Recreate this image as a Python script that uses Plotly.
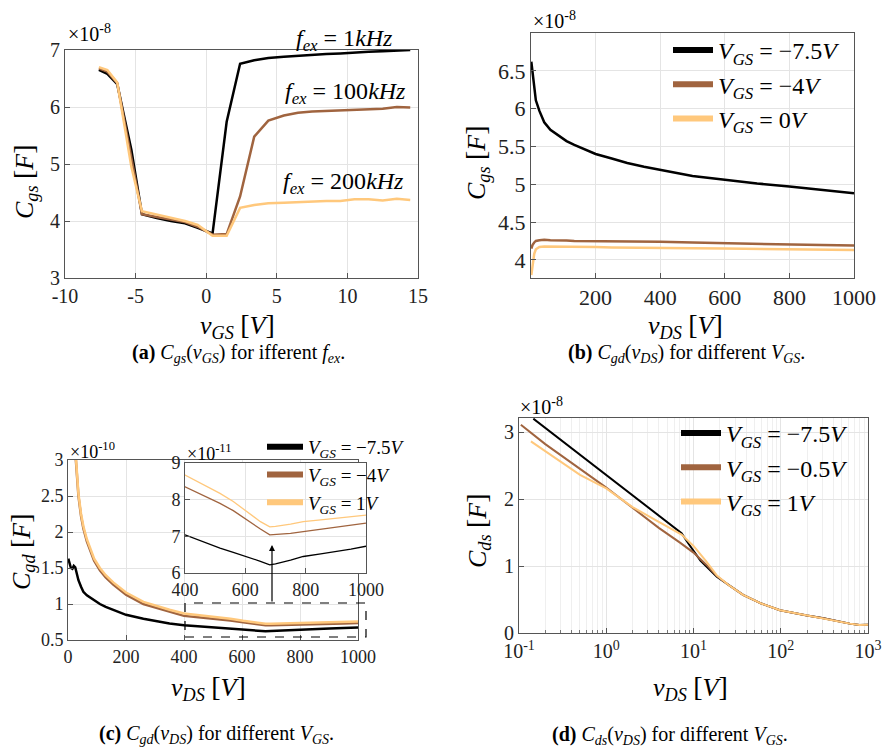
import plotly.graph_objects as go

W, H = 884, 749
FONT = "Liberation Serif, Times New Roman, serif"
BLACK = "#000000"
BROWN = "#A0643F"
ORANGE = "#FFC87C"

# ---------------- (a) Cgs(vGS) for different f_ex  (units 1e-8 F) ----------------
vgs_a = [-7.6, -7.0, -6.3, -5.3, -4.55, -3.5, -2.5, -1.5, -0.6, 0.45, 1.45, 2.4, 3.4,
         4.4, 5.5, 6.5, 7.5, 8.5, 9.5, 10.5, 11.5, 12.5, 13.5, 14.45]
cgs_1khz = [6.65, 6.58, 6.40, 5.25, 4.12, 4.05, 4.00, 3.96, 3.88, 3.78, 5.74, 6.76, 6.82,
            6.86, 6.88, 6.90, 6.92, 6.93, 6.94, 6.96, 6.97, 6.98, 6.99, 7.00]
cgs_100khz = [6.68, 6.62, 6.42, 5.12, 4.12, 4.07, 4.02, 3.98, 3.90, 3.76, 3.77, 4.43, 5.48,
              5.76, 5.85, 5.90, 5.92, 5.93, 5.94, 5.96, 5.96, 5.97, 6.00, 5.99]
cgs_200khz = [6.70, 6.65, 6.43, 4.95, 4.17, 4.11, 4.06, 4.00, 3.93, 3.74, 3.74, 4.23, 4.28,
              4.31, 4.32, 4.33, 4.35, 4.35, 4.35, 4.38, 4.38, 4.36, 4.39, 4.37]
fex_labels = ["1", "100", "200"]

# ---------------- (b) Cgs(vDS) for different VGS (units 1e-8 F) ----------------
vds_b = [1, 5, 10, 15, 26, 41, 60, 82, 110, 134, 170, 200, 250, 298, 350, 400, 500,
         600, 700, 800, 900, 1000]
cgs_m75 = [6.62, 6.45, 6.25, 6.11, 5.97, 5.82, 5.72, 5.65, 5.57, 5.52, 5.45, 5.40, 5.34,
           5.28, 5.23, 5.19, 5.11, 5.06, 5.01, 4.97, 4.93, 4.88]
cgs_m4 = [4.15, 4.20, 4.23, 4.25, 4.26, 4.265, 4.26, 4.26, 4.255, 4.25, 4.25, 4.25, 4.245,
          4.24, 4.24, 4.24, 4.23, 4.22, 4.21, 4.20, 4.195, 4.19]
cgs_0 = [3.80, 3.95, 4.08, 4.14, 4.17, 4.175, 4.175, 4.175, 4.17, 4.17, 4.17, 4.17, 4.165,
         4.165, 4.16, 4.16, 4.155, 4.15, 4.145, 4.14, 4.135, 4.13]
vgs_b_labels = ["−7.5", "−4", "0"]

# ---------------- (c) Cgd(vDS) for different VGS (units 1e-10 F) ----------------
vds_c = [1, 5, 10, 15, 20, 25, 30, 36, 45, 53, 65, 76, 90, 110, 130, 156, 200, 260, 300,
         350, 400, 450, 516, 560, 604, 650, 681, 700, 750, 792, 850, 902, 950, 1000]
cgd_m75 = [1.63, 1.58, 1.50, 1.49, 1.53, 1.51, 1.42, 1.33, 1.24, 1.17, 1.12, 1.09, 1.05,
           1.00, 0.96, 0.92, 0.85, 0.795, 0.765, 0.73, 0.704, 0.688, 0.668, 0.656, 0.645,
           0.632, 0.622, 0.625, 0.635, 0.645, 0.652, 0.658, 0.665, 0.673]
cgd_m4 = [9.0, 6.5, 4.8, 3.9, 3.4, 3.1, 2.85, 2.50, 2.22, 2.05, 1.87, 1.74, 1.60, 1.47,
          1.37, 1.27, 1.13, 1.00, 0.95, 0.89, 0.835, 0.815, 0.790, 0.770, 0.745, 0.720,
          0.704, 0.705, 0.708, 0.713, 0.719, 0.725, 0.730, 0.736]
cgd_1 = [9.2, 6.7, 4.9, 4.0, 3.45, 3.15, 2.90, 2.53, 2.25, 2.08, 1.90, 1.77, 1.63, 1.50,
         1.40, 1.30, 1.16, 1.03, 0.98, 0.92, 0.867, 0.845, 0.817, 0.795, 0.767, 0.740,
         0.726, 0.727, 0.733, 0.740, 0.745, 0.749, 0.753, 0.758]
vgs_c_labels = ["−7.5", "−4", "1"]

# ---------------- (d) Cds(vDS) for different VGS (units 1e-8 F) ----------------
vds_d_m75 = [0.146, 0.3, 0.5, 1, 2, 3, 5, 7.3, 8.7, 12, 18.5, 25, 37, 60, 98, 200, 309,
             617, 800, 1000]
cds_m75 = [3.20, 2.885, 2.66, 2.36, 2.06, 1.88, 1.65, 1.49, 1.34, 1.08, 0.84, 0.72, 0.57,
           0.44, 0.34, 0.26, 0.22, 0.14, 0.12, 0.125]
vds_d_m05 = [0.105, 0.2, 0.5, 1, 2, 4, 7, 10, 14, 18.5, 25, 37, 60, 98, 200, 309, 617,
             800, 1000]
cds_m05 = [3.11, 2.82, 2.45, 2.17, 1.87, 1.57, 1.35, 1.20, 1.02, 0.85, 0.72, 0.57, 0.44,
           0.34, 0.26, 0.22, 0.14, 0.12, 0.125]
vds_d_1 = [0.137, 0.3, 0.5, 1, 2, 4, 7.3, 10, 14, 18.5, 25, 37, 60, 98, 200, 309, 617,
           800, 1000]
cds_1 = [2.86, 2.55, 2.36, 2.16, 1.88, 1.66, 1.47, 1.30, 1.07, 0.86, 0.72, 0.57, 0.44,
         0.34, 0.26, 0.22, 0.14, 0.12, 0.125]
vgs_d_labels = ["−7.5", "−0.5", "1"]


def px(p):
    return p / W


def py(p):
    return 1 - p / H


fig = go.Figure()


def line(x, y, color, width, n):
    fig.add_trace(go.Scatter(x=x, y=y, mode="lines", line=dict(color=color, width=width),
                             xaxis="x" + n, yaxis="y" + n, showlegend=False,
                             hoverinfo="skip"))


def leg(color, label, n, legend):
    fig.add_trace(go.Scatter(x=[None], y=[None], mode="lines",
                             line=dict(color=color, width=6),
                             name="<i>V</i><sub><i>GS</i></sub> = " + label + "<i>V</i>",
                             xaxis="x" + n, yaxis="y" + n, legend=legend))


# (a)
line(vgs_a, cgs_1khz, BLACK, 2.5, "")
line(vgs_a, cgs_100khz, BROWN, 2.5, "")
line(vgs_a, cgs_200khz, ORANGE, 2.5, "")
# (b)
line(vds_b, cgs_m75, BLACK, 2.5, "2")
line(vds_b, cgs_m4, BROWN, 2.5, "2")
line(vds_b, cgs_0, ORANGE, 2.5, "2")
for c, l in zip([BLACK, BROWN, ORANGE], vgs_b_labels):
    leg(c, l, "2", "legend")
# (c) main
line(vds_c, cgd_m75, BLACK, 2.5, "3")
line(vds_c, cgd_m4, BROWN, 2.5, "3")
line(vds_c, cgd_1, ORANGE, 2.5, "3")
for c, l in zip([BLACK, BROWN, ORANGE], vgs_c_labels):
    leg(c, l, "3", "legend2")
# (d)
line(vds_d_m75, cds_m75, BLACK, 2, "4")
line(vds_d_m05, cds_m05, BROWN, 2, "4")
line(vds_d_1, cds_1, ORANGE, 2, "4")
for c, l in zip([BLACK, BROWN, ORANGE], vgs_d_labels):
    leg(c, l, "4", "legend3")
# (c) inset
line(vds_c, cgd_m75, BLACK, 1.3, "5")
line(vds_c, cgd_m4, BROWN, 1.3, "5")
line(vds_c, cgd_1, ORANGE, 1.3, "5")


def ax(size=20, **kw):
    d = dict(showline=True, mirror=True, linecolor="#555555", linewidth=1,
             showgrid=True, gridcolor="#e4e4e4", gridwidth=1, zeroline=False,
             ticks="inside", ticklen=5, tickcolor="#555555", automargin=False,
             tickfont=dict(family=FONT, size=size, color="#222222"))
    d.update(kw)
    return d


log_ticks = [0.1, 1, 10, 100, 1000]
minor_vals = [k * 10.0 ** e for e in range(-1, 3) for k in range(2, 10)]

fig.update_layout(
    width=W, height=H, margin=dict(l=0, r=0, t=0, b=0, autoexpand=False),
    paper_bgcolor="white", plot_bgcolor="white",
    font=dict(family=FONT, color="black"),
    xaxis=ax(20, domain=[px(65), px(418)], range=[-10, 15], anchor="y",
             tickvals=[-10, -5, 0, 5, 10, 15],
             ticktext=["-10", "-5", "0", "5", "10", "15"]),
    yaxis=ax(20, domain=[py(278), py(50)], range=[3, 7], anchor="x", dtick=1),
    xaxis2=ax(22, domain=[px(531), px(854)], range=[0, 1000], anchor="y2",
              tickvals=[200, 400, 600, 800, 1000]),
    yaxis2=ax(22, domain=[py(278), py(33)], range=[3.76, 7.0], anchor="x2",
              tickvals=[4, 4.5, 5, 5.5, 6, 6.5]),
    xaxis3=ax(18, domain=[px(68), px(358)], range=[0, 1000], anchor="y3", dtick=200),
    yaxis3=ax(18, domain=[py(640), py(460)], range=[0.5, 3], anchor="x3",
              tickvals=[0.5, 1, 1.5, 2, 2.5, 3]),
    xaxis4=ax(20, type="log", domain=[px(519), px(868)], range=[-1, 3], anchor="y4",
              tickvals=log_ticks,
              ticktext=["10<sup>-1</sup>", "10<sup>0</sup>", "10<sup>1</sup>",
                        "10<sup>2</sup>", "10<sup>3</sup>"],
              minor=dict(tickvals=minor_vals, showgrid=True, gridcolor="#efefef",
                         ticks="inside", ticklen=3, tickcolor="#777777")),
    yaxis4=ax(20, domain=[py(633), py(418)], range=[0, 3.21], anchor="x4",
              tickvals=[0, 1, 2, 3]),
    xaxis5=ax(18, domain=[px(185), px(366)], range=[400, 1000], anchor="y5",
              tickvals=[400, 600, 800, 1000]),
    yaxis5=ax(18, domain=[py(573), py(463)], range=[0.6, 0.9], anchor="x5",
              tickvals=[0.6, 0.7, 0.8, 0.9], ticktext=["6", "7", "8", "9"]),
    legend=dict(x=px(668), y=py(28), xanchor="left", yanchor="top", itemwidth=40,
                bgcolor="rgba(0,0,0,0)", font=dict(family=FONT, size=24)),
    legend2=dict(x=px(262), y=py(428), xanchor="left", yanchor="top", itemwidth=36,
                 bgcolor="rgba(0,0,0,0)", font=dict(family=FONT, size=19)),
    legend3=dict(x=px(676), y=py(411), xanchor="left", yanchor="top", itemwidth=40,
                 bgcolor="rgba(0,0,0,0)", font=dict(family=FONT, size=24)),
)

# white backing of the inset (hides main-plot grid under it)
fig.add_shape(type="rect", xref="x5", yref="y5", x0=400, x1=1000, y0=0.6, y1=0.9,
              fillcolor="white", line=dict(width=0), layer="below")
# dashed zoom box and arrow
fig.add_shape(type="rect", xref="paper", yref="paper", x0=px(185), x1=px(366),
              y0=py(637), y1=py(603), line=dict(color="black", width=1.2, dash="dash"))
fig.add_annotation(x=px(272), y=py(545), xref="paper", yref="paper", ax=0, ay=58,
                   text="", showarrow=True, arrowhead=2, arrowsize=1, arrowwidth=1.2,
                   arrowcolor="black")


def txt(x, y, s, size=20, angle=0, xanchor="center"):
    fig.add_annotation(x=px(x), y=py(y), xref="paper", yref="paper", text=s,
                       showarrow=False, textangle=angle, xanchor=xanchor,
                       yanchor="middle", font=dict(family=FONT, size=size, color="black"))


BR = '<span style="font-size:28px">[</span>'
BRc = '<span style="font-size:28px">]</span>'

# multiplier labels
txt(66, 33, "×10<sup>-8</sup>", 20, xanchor="left")
txt(531, 20, "×10<sup>-8</sup>", 20, xanchor="left")
txt(68, 450, "×10<sup>-10</sup>", 18, xanchor="left")
txt(185, 452, "×10<sup>-11</sup>", 18, xanchor="left")
txt(518, 406, "×10<sup>-8</sup>", 20, xanchor="left")

# axis titles
txt(25, 182, "<i>C</i><sub><i>gs</i></sub> " + BR + "<i>F</i>" + BRc, 26, -90)
txt(237, 326, "<i>v</i><sub><i>GS</i></sub> " + BR + "<i>V</i>" + BRc, 26)
txt(477, 163, "<i>C</i><sub><i>gs</i></sub> " + BR + "<i>F</i>" + BRc, 26, -90)
txt(685, 326, "<i>v</i><sub><i>DS</i></sub> " + BR + "<i>V</i>" + BRc, 26)
txt(22, 552, "<i>C</i><sub><i>gd</i></sub> " + BR + "<i>F</i>" + BRc, 26, -90)
txt(208, 688, "<i>v</i><sub><i>DS</i></sub> " + BR + "<i>V</i>" + BRc, 26)
txt(478, 530, "<i>C</i><sub><i>ds</i></sub> " + BR + "<i>F</i>" + BRc, 26, -90)
txt(690, 688, "<i>v</i><sub><i>DS</i></sub> " + BR + "<i>V</i>" + BRc, 26)

# frequency labels in (a)
txt(344, 40, "<i>f</i><sub><i>ex</i></sub> = " + fex_labels[0] + "<i>kHz</i>", 24)
txt(345, 93, "<i>f</i><sub><i>ex</i></sub> = " + fex_labels[1] + "<i>kHz</i>", 24)
txt(343, 183, "<i>f</i><sub><i>ex</i></sub> = " + fex_labels[2] + "<i>kHz</i>", 24)

# captions
txt(238, 353, "<b>(a)</b> <i>C</i><sub><i>gs</i></sub>(<i>v</i><sub><i>GS</i></sub>) for ifferent <i>f</i><sub><i>ex</i></sub>.", 20)
txt(686, 353, "<b>(b)</b> <i>C</i><sub><i>gd</i></sub>(<i>v</i><sub><i>DS</i></sub>) for different <i>V</i><sub><i>GS</i></sub>.", 20)
txt(216, 734, "<b>(c)</b> <i>C</i><sub><i>gd</i></sub>(<i>v</i><sub><i>DS</i></sub>) for different <i>V</i><sub><i>GS</i></sub>.", 20)
txt(670, 735, "<b>(d)</b> <i>C</i><sub><i>ds</i></sub>(<i>v</i><sub><i>DS</i></sub>) for different <i>V</i><sub><i>GS</i></sub>.", 20)

fig.write_html("out.html", config={"displayModeBar": False},
               post_script="document.body.style.margin='0px';")
